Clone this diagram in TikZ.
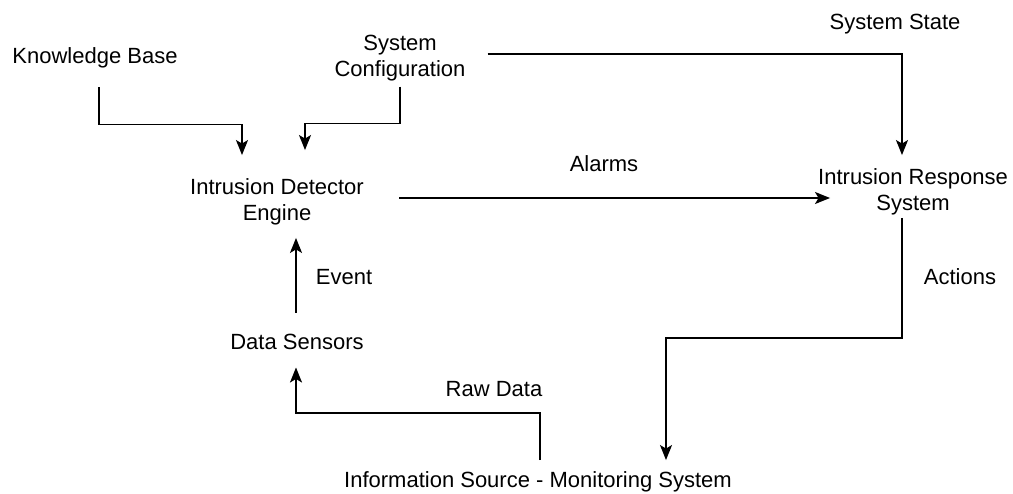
\documentclass[tikz,border=0pt]{standalone}
\usepackage{fontspec}
\setmainfont{Liberation Sans}
\usetikzlibrary{arrows.meta}
\begin{document}
\begin{tikzpicture}[x=1pt,y=-1pt,
  lbl/.style={font=\fontsize{22}{26}\selectfont, align=center, inner sep=0pt},
  arr/.style={line width=1.6pt, -{Stealth[length=15pt,width=12pt,inset=3.5pt]}}]
\useasboundingbox (0,0) rectangle (1013,494);
\node[lbl] (kb) at (95,58) {Knowledge Base};
\node[lbl] (sc) at (400,58) {System\\Configuration};
\node[lbl] (ss) at (895,24) {System State};
\node[lbl] (ide) at (277,202) {Intrusion Detector\\Engine};
\node[lbl] (al) at (604,164) {Alarms};
\node[lbl] (irs) at (913,192) {Intrusion Response\\System};
\node[lbl] (ev) at (344,277) {Event};
\node[lbl] (ac) at (960,277) {Actions};
\node[lbl] (ds) at (297,342) {Data Sensors};
\node[lbl] (rd) at (494,389) {Raw Data};
\node[lbl] (is) at (538,482) {Information Source - Monitoring System};
% connectors
\draw[arr] ([xshift=4pt,yshift=-19pt]kb.south) -- ++(0,37) -| ([xshift=-35pt,yshift=23.5pt]ide.north);
\draw[arr] ([yshift=-5.5pt]sc.south) -- ++(0,37) -| ([xshift=28pt,yshift=28.5pt]ide.north);
\draw[arr] ([xshift=22pt,yshift=4pt]sc.east) -| ([xshift=-11pt,yshift=13.5pt]irs.north);
\draw[arr] ([xshift=35pt,yshift=4pt]ide.east) -- ([xshift=12pt,yshift=-6pt]irs.west);
\draw[arr] ([xshift=-11pt,yshift=-2.5pt]irs.south) -- ++(0,120) -| ([xshift=128pt,yshift=11.5pt]is.north);
\draw[arr] ([xshift=2pt,yshift=11.5pt]is.north) -- ++(0,-47) -| ([xshift=-1pt,yshift=-17.5pt]ds.south);
\draw[arr] ([xshift=-1pt,yshift=21.5pt]ds.north) -- ([xshift=19pt,yshift=-12.5pt]ide.south);
\end{tikzpicture}
\end{document}
